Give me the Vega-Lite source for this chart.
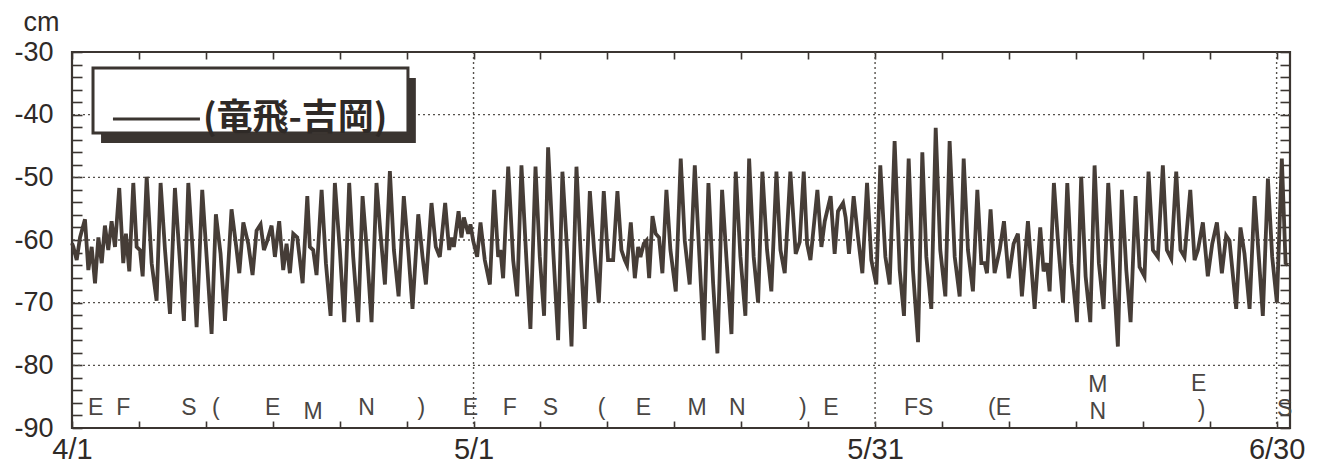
{
  "$schema": "https://vega.github.io/schema/vega-lite/v6.json",
  "width": 1218,
  "height": 376,
  "autosize": {"type": "none"},
  "padding": {"left": 72, "top": 52, "right": 32, "bottom": 40},
  "background": "#ffffff",
  "config": {
    "view": {"stroke": "#3b3531", "strokeWidth": 2.2},
    "axis": {"domain": false, "grid": false, "tickColor": "#3b3531", "tickWidth": 1.6, "labelOverlap": false, "labelFlush": false, "labelFont": "Liberation Sans", "labelColor": "#2f2a27", "titleFont": "Liberation Sans", "titleColor": "#2f2a27"}
  },
  "datasets": {
    "hgrid": [{"v": -40}, {"v": -50}, {"v": -60}, {"v": -70}, {"v": -80}],
    "vgrid": [{"d": 30}, {"d": 60}, {"d": 90}],
    "s": [
      {"d": 0.0, "v": -60.5}, {"d": 0.10, "v": -61.1}, {"d": 0.35, "v": -63.2}, {"d": 0.60, "v": -59.6}, {"d": 0.97, "v": -56.7},
      {"d": 1.22, "v": -64.8}, {"d": 1.47, "v": -61.1}, {"d": 1.72, "v": -66.9}, {"d": 1.97, "v": -59.6}, {"d": 2.22, "v": -63.7},
      {"d": 2.46, "v": -57.7}, {"d": 2.71, "v": -61.6}, {"d": 2.96, "v": -57.0}, {"d": 3.21, "v": -61.1}, {"d": 3.53, "v": -51.7},
      {"d": 3.83, "v": -63.7}, {"d": 4.03, "v": -59.0}, {"d": 4.28, "v": -65.0}, {"d": 4.58, "v": -50.9}, {"d": 4.83, "v": -61.1},
      {"d": 5.08, "v": -61.6}, {"d": 5.28, "v": -65.8}, {"d": 5.58, "v": -49.9}, {"d": 5.95, "v": -63.7}, {"d": 6.32, "v": -69.7},
      {"d": 6.62, "v": -50.9}, {"d": 6.95, "v": -61.6}, {"d": 7.32, "v": -71.8}, {"d": 7.69, "v": -51.7}, {"d": 8.07, "v": -63.7},
      {"d": 8.36, "v": -72.9}, {"d": 8.69, "v": -50.9}, {"d": 9.01, "v": -61.6}, {"d": 9.31, "v": -73.9}, {"d": 9.73, "v": -52.0},
      {"d": 10.06, "v": -62.7}, {"d": 10.43, "v": -75.0}, {"d": 10.75, "v": -55.9}, {"d": 11.10, "v": -62.2}, {"d": 11.43, "v": -72.9},
      {"d": 11.92, "v": -55.1}, {"d": 12.30, "v": -61.6}, {"d": 12.50, "v": -65.3}, {"d": 12.80, "v": -57.2}, {"d": 13.17, "v": -60.6},
      {"d": 13.49, "v": -65.6}, {"d": 13.79, "v": -58.5}, {"d": 14.09, "v": -57.5}, {"d": 14.34, "v": -61.6}, {"d": 14.59, "v": -60.1},
      {"d": 14.91, "v": -57.7}, {"d": 15.16, "v": -62.7}, {"d": 15.48, "v": -57.0}, {"d": 15.78, "v": -64.8}, {"d": 16.03, "v": -60.6},
      {"d": 16.28, "v": -65.3}, {"d": 16.53, "v": -59.0}, {"d": 16.83, "v": -59.6}, {"d": 17.23, "v": -66.9}, {"d": 17.58, "v": -53.0},
      {"d": 17.77, "v": -61.1}, {"d": 18.02, "v": -61.6}, {"d": 18.27, "v": -65.6}, {"d": 18.65, "v": -52.0}, {"d": 18.97, "v": -63.7},
      {"d": 19.32, "v": -72.1}, {"d": 19.64, "v": -50.9}, {"d": 20.01, "v": -61.6}, {"d": 20.34, "v": -73.1}, {"d": 20.71, "v": -50.9},
      {"d": 21.01, "v": -62.7}, {"d": 21.38, "v": -73.1}, {"d": 21.71, "v": -53.0}, {"d": 22.01, "v": -61.1}, {"d": 22.38, "v": -73.1},
      {"d": 22.75, "v": -50.9}, {"d": 23.05, "v": -59.0}, {"d": 23.38, "v": -67.1}, {"d": 23.75, "v": -49.0}, {"d": 24.05, "v": -61.6},
      {"d": 24.40, "v": -69.0}, {"d": 24.79, "v": -53.0}, {"d": 25.12, "v": -61.6}, {"d": 25.44, "v": -71.0}, {"d": 25.87, "v": -55.9},
      {"d": 26.19, "v": -62.7}, {"d": 26.44, "v": -67.1}, {"d": 26.86, "v": -54.1}, {"d": 27.18, "v": -61.1}, {"d": 27.48, "v": -62.7},
      {"d": 27.88, "v": -54.1}, {"d": 28.18, "v": -61.6}, {"d": 28.35, "v": -59.6}, {"d": 28.53, "v": -61.1}, {"d": 28.88, "v": -55.4},
      {"d": 29.10, "v": -59.6}, {"d": 29.28, "v": -56.4}, {"d": 29.60, "v": -59.0}, {"d": 29.77, "v": -57.5}, {"d": 29.97, "v": -60.1},
      {"d": 30.27, "v": -62.7}, {"d": 30.52, "v": -57.2}, {"d": 30.84, "v": -63.2}, {"d": 31.22, "v": -67.1}, {"d": 31.54, "v": -52.0},
      {"d": 31.84, "v": -62.7}, {"d": 32.01, "v": -61.6}, {"d": 32.21, "v": -66.1}, {"d": 32.59, "v": -48.3}, {"d": 32.96, "v": -63.2},
      {"d": 33.26, "v": -69.0}, {"d": 33.58, "v": -48.1}, {"d": 33.96, "v": -63.7}, {"d": 34.25, "v": -74.2}, {"d": 34.63, "v": -48.3},
      {"d": 34.95, "v": -62.7}, {"d": 35.27, "v": -72.1}, {"d": 35.57, "v": -45.2}, {"d": 35.95, "v": -61.6}, {"d": 36.32, "v": -76.0},
      {"d": 36.64, "v": -49.1}, {"d": 36.99, "v": -61.6}, {"d": 37.32, "v": -77.0}, {"d": 37.69, "v": -48.3}, {"d": 37.99, "v": -61.6},
      {"d": 38.31, "v": -74.2}, {"d": 38.69, "v": -52.2}, {"d": 39.01, "v": -61.6}, {"d": 39.36, "v": -70.0}, {"d": 39.73, "v": -52.2},
      {"d": 40.05, "v": -63.2}, {"d": 40.43, "v": -63.2}, {"d": 40.75, "v": -52.2}, {"d": 41.05, "v": -61.6}, {"d": 41.30, "v": -63.2},
      {"d": 41.47, "v": -64.0}, {"d": 41.75, "v": -57.2}, {"d": 42.05, "v": -66.1}, {"d": 42.30, "v": -61.1}, {"d": 42.47, "v": -62.7},
      {"d": 42.72, "v": -60.6}, {"d": 42.92, "v": -60.1}, {"d": 43.12, "v": -66.1}, {"d": 43.37, "v": -56.2}, {"d": 43.61, "v": -59.0},
      {"d": 43.86, "v": -59.6}, {"d": 44.11, "v": -65.3}, {"d": 44.41, "v": -52.0}, {"d": 44.71, "v": -61.6}, {"d": 45.11, "v": -68.2},
      {"d": 45.48, "v": -47.0}, {"d": 45.78, "v": -60.1}, {"d": 46.15, "v": -67.1}, {"d": 46.53, "v": -48.1}, {"d": 46.85, "v": -61.6},
      {"d": 47.20, "v": -76.0}, {"d": 47.55, "v": -50.9}, {"d": 47.90, "v": -66.9}, {"d": 48.22, "v": -78.1}, {"d": 48.57, "v": -52.0},
      {"d": 48.89, "v": -62.7}, {"d": 49.27, "v": -75.0}, {"d": 49.59, "v": -49.1}, {"d": 49.94, "v": -62.7}, {"d": 50.31, "v": -72.1},
      {"d": 50.59, "v": -47.0}, {"d": 50.93, "v": -62.7}, {"d": 51.26, "v": -70.0}, {"d": 51.58, "v": -49.1}, {"d": 51.93, "v": -61.6},
      {"d": 52.25, "v": -68.2}, {"d": 52.63, "v": -49.1}, {"d": 52.93, "v": -61.6}, {"d": 53.25, "v": -65.3}, {"d": 53.67, "v": -49.1},
      {"d": 54.07, "v": -62.2}, {"d": 54.37, "v": -60.3}, {"d": 54.67, "v": -49.1}, {"d": 54.92, "v": -60.6}, {"d": 55.17, "v": -63.2},
      {"d": 55.69, "v": -52.0}, {"d": 55.99, "v": -61.1}, {"d": 56.24, "v": -57.0}, {"d": 56.68, "v": -53.0}, {"d": 56.98, "v": -62.2},
      {"d": 57.23, "v": -55.4}, {"d": 57.61, "v": -54.1}, {"d": 57.80, "v": -56.4}, {"d": 58.05, "v": -62.2}, {"d": 58.40, "v": -53.0},
      {"d": 58.73, "v": -59.6}, {"d": 59.05, "v": -65.3}, {"d": 59.40, "v": -50.9}, {"d": 59.72, "v": -63.2}, {"d": 60.09, "v": -67.1},
      {"d": 60.39, "v": -48.1}, {"d": 60.77, "v": -62.7}, {"d": 61.09, "v": -67.1}, {"d": 61.46, "v": -44.2}, {"d": 61.84, "v": -64.8},
      {"d": 62.16, "v": -72.1}, {"d": 62.51, "v": -47.0}, {"d": 62.83, "v": -64.8}, {"d": 63.21, "v": -76.3}, {"d": 63.53, "v": -46.0},
      {"d": 63.83, "v": -62.7}, {"d": 64.20, "v": -71.0}, {"d": 64.53, "v": -42.1}, {"d": 64.87, "v": -61.6}, {"d": 65.25, "v": -69.0},
      {"d": 65.57, "v": -44.2}, {"d": 65.95, "v": -62.7}, {"d": 66.32, "v": -69.0}, {"d": 66.62, "v": -47.0}, {"d": 66.94, "v": -61.6},
      {"d": 67.31, "v": -68.2}, {"d": 67.64, "v": -52.0}, {"d": 67.94, "v": -63.7}, {"d": 68.19, "v": -63.7}, {"d": 68.36, "v": -65.3},
      {"d": 68.63, "v": -55.1}, {"d": 68.93, "v": -65.3}, {"d": 69.31, "v": -61.6}, {"d": 69.63, "v": -57.0}, {"d": 69.98, "v": -66.1},
      {"d": 70.35, "v": -60.6}, {"d": 70.67, "v": -59.0}, {"d": 70.97, "v": -69.0}, {"d": 71.42, "v": -57.0}, {"d": 71.92, "v": -71.0},
      {"d": 72.34, "v": -58.0}, {"d": 72.59, "v": -65.0}, {"d": 72.84, "v": -63.7}, {"d": 73.04, "v": -68.2}, {"d": 73.36, "v": -50.9},
      {"d": 73.66, "v": -60.1}, {"d": 74.04, "v": -70.0}, {"d": 74.36, "v": -50.9}, {"d": 74.66, "v": -63.7}, {"d": 75.08, "v": -73.1},
      {"d": 75.40, "v": -49.9}, {"d": 75.73, "v": -65.8}, {"d": 76.08, "v": -73.1}, {"d": 76.40, "v": -48.1}, {"d": 76.72, "v": -63.7},
      {"d": 77.07, "v": -71.0}, {"d": 77.42, "v": -50.9}, {"d": 77.77, "v": -63.7}, {"d": 78.14, "v": -77.0}, {"d": 78.44, "v": -52.0},
      {"d": 78.77, "v": -64.8}, {"d": 79.09, "v": -73.1}, {"d": 79.46, "v": -53.0}, {"d": 79.76, "v": -64.3}, {"d": 80.13, "v": -65.8},
      {"d": 80.43, "v": -49.1}, {"d": 80.76, "v": -61.6}, {"d": 81.13, "v": -62.7}, {"d": 81.50, "v": -48.1}, {"d": 81.80, "v": -61.6},
      {"d": 82.13, "v": -63.0}, {"d": 82.50, "v": -49.1}, {"d": 82.82, "v": -61.6}, {"d": 83.12, "v": -62.7}, {"d": 83.55, "v": -52.0},
      {"d": 83.87, "v": -63.2}, {"d": 84.12, "v": -61.6}, {"d": 84.49, "v": -57.2}, {"d": 84.86, "v": -65.8}, {"d": 85.19, "v": -60.6},
      {"d": 85.54, "v": -57.2}, {"d": 85.91, "v": -65.3}, {"d": 86.23, "v": -59.3}, {"d": 86.48, "v": -60.1}, {"d": 86.98, "v": -71.0},
      {"d": 87.30, "v": -58.0}, {"d": 87.60, "v": -62.2}, {"d": 87.98, "v": -71.0}, {"d": 88.35, "v": -53.0}, {"d": 88.67, "v": -62.7},
      {"d": 88.97, "v": -72.1}, {"d": 89.35, "v": -50.2}, {"d": 89.67, "v": -62.7}, {"d": 90.02, "v": -70.0}, {"d": 90.39, "v": -47.0},
      {"d": 90.67, "v": -63.7}, {"d": 90.84, "v": -64.0}
    ],
    "shadow": [{"x1": 2.17, "x2": 25.69, "y1": -34.15, "y2": -44.52}],
    "box": [{"x1": 1.57, "x2": 25.1, "y1": -32.55, "y2": -42.93}],
    "legline": [{"x1": 3.06, "x2": 9.56, "y": -40.7}],
    "legtext": [{"x": 9.78, "y": -40.7, "t": "(竜飛-吉岡)"}],
    "ann": [
      {"d": 1.77, "v": -86.8, "t": "E"}, {"d": 3.83, "v": -86.8, "t": "F"}, {"d": 8.74, "v": -86.8, "t": "S"},
      {"d": 10.75, "v": -86.8, "t": "("}, {"d": 14.99, "v": -86.8, "t": "E"}, {"d": 18.02, "v": -87.5, "t": "M"},
      {"d": 22.0, "v": -86.8, "t": "N"}, {"d": 26.1, "v": -86.8, "t": ")"}, {"d": 29.77, "v": -86.8, "t": "E"},
      {"d": 32.7, "v": -86.8, "t": "F"}, {"d": 35.75, "v": -86.8, "t": "S"}, {"d": 39.56, "v": -86.8, "t": "("},
      {"d": 42.7, "v": -86.8, "t": "E"}, {"d": 46.7, "v": -86.8, "t": "M"}, {"d": 49.7, "v": -86.8, "t": "N"},
      {"d": 54.6, "v": -86.8, "t": ")"}, {"d": 56.7, "v": -86.8, "t": "E"}, {"d": 63.26, "v": -86.8, "t": "FS"},
      {"d": 69.3, "v": -86.8, "t": "(E"}, {"d": 76.65, "v": -83.2, "t": "M"}, {"d": 76.65, "v": -87.4, "t": "N"},
      {"d": 84.17, "v": -83.0, "t": "E"}, {"d": 84.4, "v": -87.2, "t": ")"}, {"d": 90.6, "v": -87.0, "t": "S"}
    ]
  },
  "resolve": {"axis": {"x": "independent", "y": "independent"}},
  "layer": [
    {
      "data": {"name": "hgrid"},
      "mark": {"type": "rule", "color": "#55504b", "strokeWidth": 1.4, "strokeDash": [2, 3]},
      "encoding": {
        "y": {"field": "v", "type": "quantitative", "axis": null, "scale": {"domain": [-90, -30], "nice": false, "zero": false}}
      }
    },
    {
      "data": {"name": "vgrid"},
      "mark": {"type": "rule", "color": "#55504b", "strokeWidth": 1.4, "strokeDash": [2, 3]},
      "encoding": {
        "x": {"field": "d", "type": "quantitative", "axis": null, "scale": {"domain": [0, 91], "nice": false, "zero": false}}
      }
    },
    {
      "data": {"name": "s"},
      "mark": {"type": "line", "color": "#463d37", "strokeWidth": 3.8, "strokeJoin": "miter"},
      "encoding": {
        "x": {
          "field": "d", "type": "quantitative",
          "scale": {"domain": [0, 91], "nice": false, "zero": false},
          "axis": {
            "orient": "bottom", "title": null,
            "values": [0, 5, 10, 15, 20, 25, 30, 35, 40, 45, 50, 55, 60, 65, 70, 75, 80, 85, 90],
            "tickSize": -7, "labelPadding": 14, "labelFontSize": 29, "labelBaseline": "top", "labelDx": -3,
            "labelExpr": "datum.value == 0 ? '4/1' : datum.value == 30 ? '5/1' : datum.value == 60 ? '5/31' : datum.value == 90 ? '6/30' : ''"
          }
        },
        "y": {
          "field": "v", "type": "quantitative",
          "scale": {"domain": [-90, -30], "nice": false, "zero": false},
          "axis": {
            "orient": "left",
            "values": [-90, -88, -86, -84, -82, -80, -78, -76, -74, -72, -70, -68, -66, -64, -62, -60, -58, -56, -54, -52, -50, -48, -46, -44, -42, -40, -38, -36, -34, -32, -30],
            "tickSize": -10, "labelPadding": 29, "labelFontSize": 27, "labelBaseline": "middle",
            "labelExpr": "datum.value % 10 == 0 ? '-' + abs(datum.value) : ''",
            "title": "cm", "titleAngle": 0, "titleAlign": "left", "titleBaseline": "alphabetic",
            "titleX": -49, "titleY": -22, "titleFontSize": 27, "titleFontWeight": "normal"
          }
        }
      }
    },
    {
      "data": {"name": "shadow"},
      "mark": {"type": "rect", "color": "#3b3531"},
      "encoding": {
        "x": {"field": "x1", "type": "quantitative", "axis": null},
        "x2": {"field": "x2"},
        "y": {"field": "y1", "type": "quantitative", "axis": null},
        "y2": {"field": "y2"}
      }
    },
    {
      "data": {"name": "box"},
      "mark": {"type": "rect", "fill": "#ffffff", "stroke": "#3b3531", "strokeWidth": 3},
      "encoding": {
        "x": {"field": "x1", "type": "quantitative", "axis": null},
        "x2": {"field": "x2"},
        "y": {"field": "y1", "type": "quantitative", "axis": null},
        "y2": {"field": "y2"}
      }
    },
    {
      "data": {"name": "legline"},
      "mark": {"type": "rule", "color": "#3b3531", "strokeWidth": 3},
      "encoding": {
        "x": {"field": "x1", "type": "quantitative", "axis": null},
        "x2": {"field": "x2"},
        "y": {"field": "y", "type": "quantitative", "axis": null}
      }
    },
    {
      "data": {"name": "legtext"},
      "mark": {"type": "text", "align": "left", "baseline": "middle", "font": "Noto Sans CJK JP", "fontSize": 36, "fontWeight": "bold", "color": "#2f2a27"},
      "encoding": {
        "x": {"field": "x", "type": "quantitative", "axis": null},
        "y": {"field": "y", "type": "quantitative", "axis": null},
        "text": {"field": "t"}
      }
    },
    {
      "data": {"name": "ann"},
      "mark": {"type": "text", "align": "center", "baseline": "middle", "font": "Liberation Sans", "fontSize": 23, "color": "#4a4643"},
      "encoding": {
        "x": {
          "field": "d", "type": "quantitative",
          "axis": {
            "orient": "top", "title": null, "labels": false,
            "values": [0, 5, 10, 15, 20, 25, 30, 35, 40, 45, 50, 55, 60, 65, 70, 75, 80, 85, 90],
            "tickSize": -7
          }
        },
        "y": {
          "field": "v", "type": "quantitative",
          "axis": {
            "orient": "right", "title": null, "labels": false,
            "values": [-90, -88, -86, -84, -82, -80, -78, -76, -74, -72, -70, -68, -66, -64, -62, -60, -58, -56, -54, -52, -50, -48, -46, -44, -42, -40, -38, -36, -34, -32, -30],
            "tickSize": -10
          }
        },
        "text": {"field": "t"}
      }
    }
  ]
}
